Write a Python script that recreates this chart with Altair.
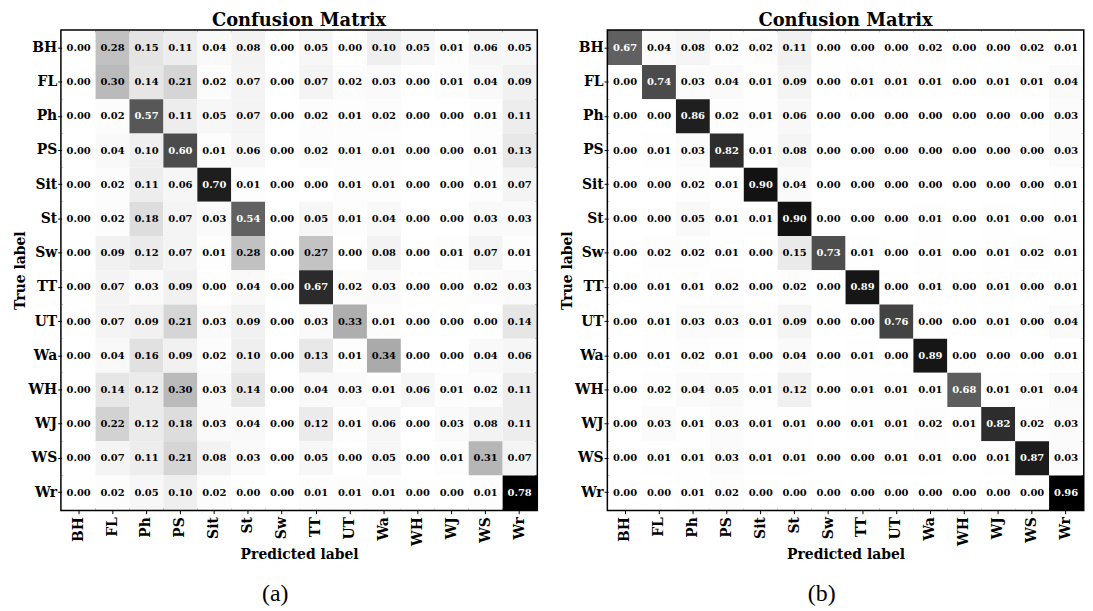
import altair as alt
import pandas as pd

labels = ["BH", "FL", "Ph", "PS", "Sit", "St", "Sw", "TT", "UT", "Wa", "WH", "WJ", "WS", "Wr"]

conf_a = [
    [0.00, 0.28, 0.15, 0.11, 0.04, 0.08, 0.00, 0.05, 0.00, 0.10, 0.05, 0.01, 0.06, 0.05],
    [0.00, 0.30, 0.14, 0.21, 0.02, 0.07, 0.00, 0.07, 0.02, 0.03, 0.00, 0.01, 0.04, 0.09],
    [0.00, 0.02, 0.57, 0.11, 0.05, 0.07, 0.00, 0.02, 0.01, 0.02, 0.00, 0.00, 0.01, 0.11],
    [0.00, 0.04, 0.10, 0.60, 0.01, 0.06, 0.00, 0.02, 0.01, 0.01, 0.00, 0.00, 0.01, 0.13],
    [0.00, 0.02, 0.11, 0.06, 0.70, 0.01, 0.00, 0.00, 0.01, 0.01, 0.00, 0.00, 0.01, 0.07],
    [0.00, 0.02, 0.18, 0.07, 0.03, 0.54, 0.00, 0.05, 0.01, 0.04, 0.00, 0.00, 0.03, 0.03],
    [0.00, 0.09, 0.12, 0.07, 0.01, 0.28, 0.00, 0.27, 0.00, 0.08, 0.00, 0.01, 0.07, 0.01],
    [0.00, 0.07, 0.03, 0.09, 0.00, 0.04, 0.00, 0.67, 0.02, 0.03, 0.00, 0.00, 0.02, 0.03],
    [0.00, 0.07, 0.09, 0.21, 0.03, 0.09, 0.00, 0.03, 0.33, 0.01, 0.00, 0.00, 0.00, 0.14],
    [0.00, 0.04, 0.16, 0.09, 0.02, 0.10, 0.00, 0.13, 0.01, 0.34, 0.00, 0.00, 0.04, 0.06],
    [0.00, 0.14, 0.12, 0.30, 0.03, 0.14, 0.00, 0.04, 0.03, 0.01, 0.06, 0.01, 0.02, 0.11],
    [0.00, 0.22, 0.12, 0.18, 0.03, 0.04, 0.00, 0.12, 0.01, 0.06, 0.00, 0.03, 0.08, 0.11],
    [0.00, 0.07, 0.11, 0.21, 0.08, 0.03, 0.00, 0.05, 0.00, 0.05, 0.00, 0.01, 0.31, 0.07],
    [0.00, 0.02, 0.05, 0.10, 0.02, 0.00, 0.00, 0.01, 0.01, 0.01, 0.00, 0.00, 0.01, 0.78],
]

conf_b = [
    [0.67, 0.04, 0.08, 0.02, 0.02, 0.11, 0.00, 0.00, 0.00, 0.02, 0.00, 0.00, 0.02, 0.01],
    [0.00, 0.74, 0.03, 0.04, 0.01, 0.09, 0.00, 0.01, 0.01, 0.01, 0.00, 0.01, 0.01, 0.04],
    [0.00, 0.00, 0.86, 0.02, 0.01, 0.06, 0.00, 0.00, 0.00, 0.00, 0.00, 0.00, 0.00, 0.03],
    [0.00, 0.01, 0.03, 0.82, 0.01, 0.08, 0.00, 0.00, 0.00, 0.00, 0.00, 0.00, 0.00, 0.03],
    [0.00, 0.00, 0.02, 0.01, 0.90, 0.04, 0.00, 0.00, 0.00, 0.00, 0.00, 0.00, 0.00, 0.01],
    [0.00, 0.00, 0.05, 0.01, 0.01, 0.90, 0.00, 0.00, 0.00, 0.01, 0.00, 0.01, 0.00, 0.01],
    [0.00, 0.02, 0.02, 0.01, 0.00, 0.15, 0.73, 0.01, 0.00, 0.01, 0.00, 0.01, 0.02, 0.01],
    [0.00, 0.01, 0.01, 0.02, 0.00, 0.02, 0.00, 0.89, 0.00, 0.01, 0.00, 0.01, 0.00, 0.01],
    [0.00, 0.01, 0.03, 0.03, 0.01, 0.09, 0.00, 0.00, 0.76, 0.00, 0.00, 0.01, 0.00, 0.04],
    [0.00, 0.01, 0.02, 0.01, 0.00, 0.04, 0.00, 0.01, 0.00, 0.89, 0.00, 0.00, 0.00, 0.01],
    [0.00, 0.02, 0.04, 0.05, 0.01, 0.12, 0.00, 0.01, 0.01, 0.01, 0.68, 0.01, 0.01, 0.04],
    [0.00, 0.03, 0.01, 0.03, 0.01, 0.01, 0.00, 0.01, 0.01, 0.02, 0.01, 0.82, 0.02, 0.03],
    [0.00, 0.01, 0.01, 0.03, 0.01, 0.01, 0.00, 0.00, 0.01, 0.01, 0.00, 0.01, 0.87, 0.03],
    [0.00, 0.00, 0.01, 0.02, 0.00, 0.00, 0.00, 0.00, 0.00, 0.00, 0.00, 0.00, 0.00, 0.96],
]

captions = ["(a)", "(b)"]
# matplotlib "Greys" colormap stops (ColorBrewer 9-class)
greys = ["#ffffff", "#f0f0f0", "#d9d9d9", "#bdbdbd", "#969696",
         "#737373", "#525252", "#252525", "#000000"]
W, H = 478, 482
SERIF = "DejaVu Serif"


def to_frame(mat):
    rows = []
    for i, t in enumerate(labels):
        for j, p in enumerate(labels):
            rows.append({"true": t, "pred": p, "v": mat[i][j]})
    return pd.DataFrame(rows)


def panel(mat, caption):
    df = to_frame(mat)
    vmax = max(max(r) for r in mat)
    n = len(greys) - 1
    dom = [vmax * k / n for k in range(n + 1)]
    x = alt.X("pred:N", sort=labels, title="Predicted label",
              scale=alt.Scale(paddingInner=0, paddingOuter=0),
              axis=alt.Axis(labelAngle=270, labelPadding=3, titlePadding=2))
    y = alt.Y("true:N", sort=labels, title="True label",
              scale=alt.Scale(paddingInner=0, paddingOuter=0),
              axis=alt.Axis(labelPadding=1, titlePadding=0))
    base = alt.Chart(df).encode(x=x, y=y)
    rect = base.mark_rect().encode(
        color=alt.Color("v:Q", scale=alt.Scale(domain=dom, range=greys, interpolate="rgb"), legend=None)
    )
    text = base.mark_text(font=SERIF, fontWeight="bold", fontSize=10).encode(
        text=alt.Text("v:Q", format=".2f"),
        color=alt.condition(alt.datum.v > vmax / 2, alt.value("white"), alt.value("black")),
    )
    inner = alt.layer(rect, text).properties(
        width=W, height=H,
        title=alt.TitleParams("Confusion Matrix", font=SERIF, fontSize=18, fontWeight="bold",
                              color="black", anchor="middle", frame="group", offset=1),
    ).resolve_scale(color="independent")
    return alt.vconcat(inner).properties(
        title=alt.TitleParams(caption, orient="bottom", font="Liberation Serif", fontSize=24,
                              fontWeight="normal", color="black", anchor="middle",
                              frame="bounds", offset=19)
    )


chart = alt.hconcat(panel(conf_a, captions[0]), panel(conf_b, captions[1]), spacing=20).resolve_scale(
    color="independent"
).properties(
    padding={"left": 4, "top": 0, "right": 0, "bottom": 0}
).configure_view(
    stroke="black", strokeWidth=3
).configure_axis(
    labelFont=SERIF, labelFontWeight="bold", labelFontSize=14, labelColor="black",
    titleFont=SERIF, titleFontWeight="bold", titleFontSize=14, titleColor="black",
    tickColor="black", tickSize=4, tickWidth=1, domain=False, grid=False,
)

chart.save("out.html", embed_options={"renderer": "svg", "actions": False})
